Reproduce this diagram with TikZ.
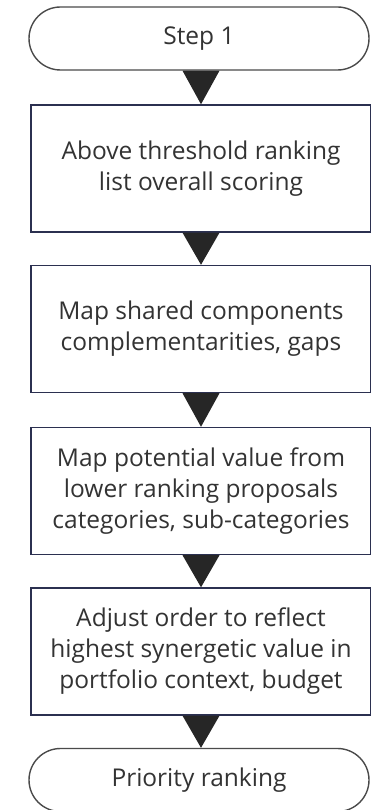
\documentclass[tikz,border=0pt]{standalone}
\usepackage{fontspec}
\setmainfont{Open Sans}
\definecolor{boxline}{HTML}{2B3050}
\definecolor{termline}{HTML}{4A4A4A}
\definecolor{textgray}{HTML}{333333}
\definecolor{tipfill}{HTML}{262626}
\tikzset{
  stepbox/.style={draw=boxline, line width=1.4pt, fill=white, minimum width=340pt,
    minimum height=127pt, align=center, text=textgray, font=\fontsize{24.5}{31}\selectfont},
  termbox/.style={draw=termline, line width=1.4pt, fill=white, rounded corners=31.5pt,
    minimum width=340pt, minimum height=63pt, text=textgray, font=\fontsize{24.5}{31}\selectfont},
  tip/.style={fill=tipfill}
}
\begin{document}
\begin{tikzpicture}[x=1pt,y=-1pt]
    \useasboundingbox (0,0) rectangle (370,810);
    \node [termbox] (start) at (199,38.5) {Step 1};
    \node [stepbox] (rank) at (201,168.5) {Above threshold ranking\\list overall scoring};
    \node [stepbox] (shared) at (201,329) {Map shared components\\complementarities, gaps};
    \node [stepbox] (value) at (201,491) {Map potential value from\\lower ranking proposals\\categories, sub-categories};
    \node [stepbox] (adjust) at (201,651.5) {Adjust order to reflect\\highest synergetic value in\\portfolio context, budget};
    \node [termbox] (prio) at (199,780) {Priority ranking};
    \fill [tip] (start.south -| rank.north) ++(-18.5,0) -- ++(37,0) -- (rank.north) -- cycle;
    \fill [tip] (rank.south) ++(-18.5,0) -- ++(37,0) -- (shared.north) -- cycle;
    \fill [tip] (shared.south) ++(-18.5,0) -- ++(37,0) -- (value.north) -- cycle;
    \fill [tip] (value.south) ++(-18.5,0) -- ++(37,0) -- (adjust.north) -- cycle;
    \fill [tip] (adjust.south) ++(-18.5,0) -- ++(37,0) -- (prio.north -| adjust.south) -- cycle;
\end{tikzpicture}
\end{document}
